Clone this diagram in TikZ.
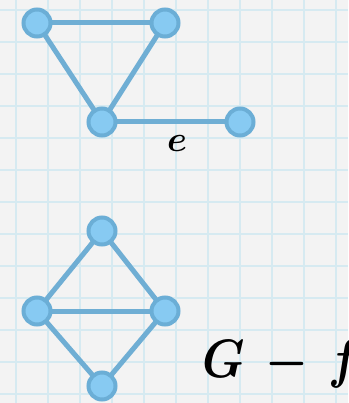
\documentclass[tikz,border=0pt]{standalone}
\usepackage{amsmath}
\usepackage{tikz}
\usetikzlibrary{
  positioning,
  backgrounds
}
\usepackage{xcolor}
\definecolor{paper}{RGB}{243,243,243}
\definecolor{gridblue}{RGB}{214,234,241}
\definecolor{vertexfill}{RGB}{135,202,242}
\definecolor{vertexline}{RGB}{107,174,214}
\definecolor{edgeblue}{RGB}{111,174,212}

\begin{document}
\begin{tikzpicture}[
  x=1pt, y=-1pt,
  vertex/.style={circle, fill=vertexfill, draw=vertexline, line width=4pt,
               minimum size=27pt, inner sep=0pt},
  edgeline/.style={draw=edgeblue, line width=5pt},
  gridline/.style={draw=gridblue, line width=1.6pt}
]

\useasboundingbox (0,0) rectangle (348,403);

% upper graph
\node[vertex] (a1) at (37, 23) {};
\node[vertex] (a2) at (165, 23) {};
\node[vertex] (a3) at (102, 122) {};
\node[vertex] (a4) at (240, 122) {};

% lower graph
\node[vertex] (b1) at (102, 231) {};
\node[vertex] (b2) at (37, 311) {};
\node[vertex] (b3) at (165, 311) {};
\node[vertex] (b4) at (102, 386) {};

\node[font=\boldmath, scale=3.6, transform shape, inner sep=0pt] (elabel)
  at (177, 144) {$e$};
\node[font=\boldmath, anchor=base west, xscale=4.8, yscale=5.4,
      transform shape, inner sep=0pt] (gflabel) at (202, 377)
  {$G\mkern2.5mu-\mkern2.5mu f$};

\begin{pgfonlayer}{background}
\fill[paper] (0,0) rectangle (348,403);
\foreach \x in {16,48,...,336}
  \draw[gridline] (\x,0) -- (\x,403);
\foreach \y in {10,42,...,400}
  \draw[gridline] (0,\y) -- (348,\y);

\draw[edgeline] (a1.center) -- (a2.center);
\draw[edgeline] (a1.center) -- (a3.center);
\draw[edgeline] (a2.center) -- (a3.center);
\draw[edgeline] (a3.center) -- (a4.center);

\draw[edgeline] (b1.center) -- (b2.center);
\draw[edgeline] (b1.center) -- (b3.center);
\draw[edgeline] (b2.center) -- (b3.center);
\draw[edgeline] (b2.center) -- (b4.center);
\draw[edgeline] (b3.center) -- (b4.center);
\end{pgfonlayer}

\end{tikzpicture}
\end{document}
